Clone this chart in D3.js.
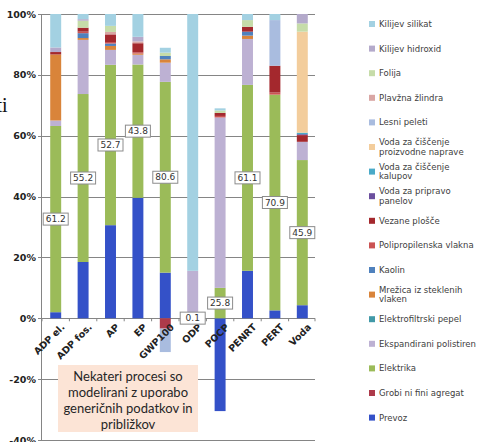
<!DOCTYPE html>
<html>
<head>
<meta charset="utf-8">
<script src="https://cdn.jsdelivr.net/npm/d3@7/dist/d3.min.js"></script>
<style>
  html, body { margin: 0; padding: 0; background: #fff; }
  svg { display: block; }
</style>
</head>
<body>
<svg id="chart" width="485" height="442"></svg>
<script>
// Impact categories (x axis)
const categories = ["ADP el.", "ADP fos.", "AP", "EP", "GWP100", "ODP", "POCP", "PENRT", "PERT", "Voda"];

// Contribution of each input per category, in % (stacked bottom to top)
const prevoz          = [2.0, 18.5, 30.6, 39.6, 15.0, 0, -30.5, 15.6, 2.6, 4.3];
const grobiAgregat    = [0, 0, 0, 0, -3.4, 0, 0, 0, 0, 0];
const elektrika       = [61.2, 55.2, 52.7, 43.8, 62.7, 0.1, 10.0, 61.1, 70.9, 47.7];
const ekspandirani    = [1.8, 17.8, 4.9, 3.2, 6.3, 15.5, 56.0, 15.1, 0, 6.0];
const elektrofiltrski = [0, 0, 0, 0, 0, 0, 0, 0, 0, 0];
const mrezica         = [21.7, 0.6, 1.3, 0.4, 1.1, 0, 0, 1.1, 0, 0];
const kaolin          = [0, 1.6, 0.8, 0, 1.1, 0, 0, 1.3, 0, 0];
const polipropilen    = [0, 0.5, 0.5, 0.4, 0, 0, 0.5, 0, 0.7, 0];
const vezanePlosce    = [0.8, 1.3, 2.5, 3.0, 0, 0, 1.0, 1.6, 8.8, 2.2];
const vodaPripravo    = [0, 0, 0, 0, 0, 0, 0, 0, 0, 0.3];
const vodaKalupov     = [0, 0, 0, 0, 0, 0, 0, 0, 0, 0.5];
const vodaNaprave     = [0, 0, 0, 0, 0, 0, 0, 0, 0, 33.2];
const lesniPeleti     = [0, 0, 0, 0, -7.7, 0, 0, 0, 15.0, 0];
const plavznaZlindra  = [0, 0, 0.8, 0.6, 0, 0, 0, 0, 0, 0];
const folija          = [0, 2.3, 2.0, 0, 1.1, 0, 0.8, 2.2, 0, 2.7];
const kilijevHidroxid = [1.5, 0.5, 0, 1.5, 0, 0, 0, 0, 0, 3.1];
const kilijevSilikat  = [11.0, 1.7, 3.9, 7.5, 1.6, 84.4, 0.7, 2.0, 2.0, 0];

// Share of electricity, written in the boxes on the green segments
const elektrikaShare = [61.2, 55.2, 52.7, 43.8, 80.6, 0.1, 25.8, 61.1, 70.9, 45.9];

// Axis ticks
const yTicks = [-40, -20, 0, 20, 40, 60, 80, 100];

// Series: name, values, colour (stack order, bottom first)
const seriesNames = [
  "Prevoz", "Grobi ni fini agregat", "Elektrika", "Ekspandirani polistiren",
  "Elektrofiltrski pepel", "Mrežica iz steklenih vlaken", "Kaolin",
  "Polipropilenska vlakna", "Vezane plošče", "Voda za pripravo panelov",
  "Voda za čiščenje kalupov", "Voda za čiščenje proizvodne naprave",
  "Lesni peleti", "Plavžna žlindra", "Folija", "Kilijev hidroxid", "Kilijev silikat"
];
const seriesValues = [
  prevoz, grobiAgregat, elektrika, ekspandirani, elektrofiltrski, mrezica, kaolin,
  polipropilen, vezanePlosce, vodaPripravo, vodaKalupov, vodaNaprave,
  lesniPeleti, plavznaZlindra, folija, kilijevHidroxid, kilijevSilikat
];
const seriesColors = [
  "#3451c8", "#ad3a4a", "#9bbb59", "#bdb1d3", "#4199a8", "#d9843a", "#4f81bd",
  "#cb5353", "#a4282d", "#6b4f9e", "#4aaac8", "#f3cd9c",
  "#a9bcdf", "#d9a6a4", "#c6dca9", "#b4aacb", "#a3d1e2"
];

// Legend entries (text lines), top to bottom
const legendLabels = [
  ["Kilijev silikat"], ["Kilijev hidroxid"], ["Folija"], ["Plavžna žlindra"],
  ["Lesni peleti"], ["Voda za čiščenje", "proizvodne naprave"],
  ["Voda za čiščenje", "kalupov"], ["Voda za pripravo", "panelov"],
  ["Vezane plošče"], ["Polipropilenska vlakna"], ["Kaolin"],
  ["Mrežica iz steklenih", "vlaken"], ["Elektrofiltrski pepel"],
  ["Ekspandirani polistiren"], ["Elektrika"], ["Grobi ni fini agregat"], ["Prevoz"]
];

const noteLines = ["Nekateri procesi so", "modelirani z uporabo", "generičnih podatkov in", "približkov"];

// ---- build table for d3.stack ----
const table = categories.map((c, i) => {
  const row = { category: c };
  seriesNames.forEach((s, j) => { row[s] = seriesValues[j][i]; });
  return row;
});

const svg = d3.select("#chart");

const x = d3.scaleBand().domain(categories).range([42, 316]).paddingInner(0.6).paddingOuter(0.3);
const y = d3.scaleLinear().domain([-40, 100]).range([440, 14]);

// grid lines
svg.append("g").selectAll("line").data(yTicks).join("line")
  .attr("x1", 38).attr("x2", 315)
  .attr("y1", d => Math.round(y(d)) + 0.5).attr("y2", d => Math.round(y(d)) + 0.5)
  .attr("stroke", "#858585").attr("stroke-width", 1);

// y axis labels
const yAxis = d3.axisLeft(y).tickValues(yTicks).tickFormat(d => d + "%").tickSize(0).tickPadding(5);
const yg = svg.append("g").attr("transform", "translate(41,0)").call(yAxis);
yg.select(".domain").remove();
yg.selectAll("text")
  .attr("font-family", "DejaVu Sans").attr("font-weight", "bold")
  .attr("font-size", "9.5px").attr("fill", "#222");

// vertical axis line
svg.append("line").attr("x1", 41.5).attr("x2", 41.5).attr("y1", y(100)).attr("y2", y(-40))
  .attr("stroke", "#858585");

// stacked bars
const stack = d3.stack().keys(seriesNames).offset(d3.stackOffsetDiverging);
const layers = stack(table);

svg.append("g").selectAll("g").data(layers).join("g")
  .attr("fill", (d, i) => seriesColors[i])
  .selectAll("rect").data(d => d).join("rect")
  .attr("x", d => x(d.data.category))
  .attr("width", x.bandwidth())
  .attr("y", d => y(Math.max(d[0], d[1])))
  .attr("height", d => Math.abs(y(d[0]) - y(d[1])));

// ticks between categories on the zero line
const bounds = categories.map(c => x(c) - x.step() * x.paddingInner() / 2).concat([315]);
svg.append("g").selectAll("line").data(bounds).join("line")
  .attr("x1", d => d).attr("x2", d => d)
  .attr("y1", y(0)).attr("y2", y(0) + 3)
  .attr("stroke", "#858585");

// category labels
const xAxis = d3.axisBottom(x).tickSize(0).tickPadding(0);
const xg = svg.append("g").attr("transform", `translate(0,${y(0)})`).call(xAxis);
xg.select(".domain").remove();
xg.selectAll("text")
  .attr("font-family", "DejaVu Sans").attr("font-weight", "bold")
  .attr("font-size", "9.5px").attr("fill", "#222")
  .attr("text-anchor", "end").attr("dy", 0).attr("y", 0)
  .attr("transform", "translate(9.5,9.5) rotate(-45)");

// electricity share labels at the middle of the green segment
const elLayer = layers[seriesNames.indexOf("Elektrika")];
const lbl = svg.append("g").selectAll("g").data(elLayer).join("g")
  .attr("transform", (d, i) => `translate(${x(d.data.category) + x.bandwidth() / 2},${y((d[0] + d[1]) / 2)})`);
lbl.append("rect").attr("x", -12.5).attr("y", -6).attr("width", 25).attr("height", 12)
  .attr("fill", "#fff").attr("stroke", "#8c8c8c").attr("stroke-width", 1);
lbl.append("text").text((d, i) => elektrikaShare[i])
  .attr("text-anchor", "middle").attr("dy", "0.36em")
  .attr("font-family", "DejaVu Sans").attr("font-size", "9px").attr("fill", "#333");

// note box
const note = svg.append("g");
note.append("rect").attr("x", 58).attr("y", 365).attr("width", 140).attr("height", 67)
  .attr("fill", "#fce4d6");
note.selectAll("text").data(noteLines).join("text")
  .attr("x", 128).attr("y", (d, i) => 380.5 + i * 16)
  .attr("text-anchor", "middle")
  .attr("font-family", "Lato").attr("font-size", "13px").attr("fill", "#262626")
  .text(d => d);

// stray text fragment on the left edge
svg.append("text").attr("x", 7.5).attr("y", 111.5).attr("text-anchor", "end")
  .attr("font-family", "Liberation Serif").attr("font-size", "20px").attr("fill", "#111")
  .text("ti");

// legend
const legendColors = seriesColors.slice().reverse();
const lg = svg.append("g").selectAll("g").data(legendLabels).join("g")
  .attr("transform", (d, i) => `translate(369,${24 + i * 24.6})`);
lg.append("rect").attr("x", 0).attr("y", -3).attr("width", 6).attr("height", 6)
  .attr("fill", (d, i) => legendColors[i]);
lg.append("text")
  .attr("font-family", "DejaVu Sans").attr("font-size", "8.5px").attr("fill", "#404040")
  .selectAll("tspan").data(d => d.map((t, k) => ({ t, k, n: d.length }))).join("tspan")
  .attr("x", 10)
  .attr("y", d => (d.n === 1 ? 0 : (d.k === 0 ? -4.7 : 4.7)))
  .attr("dy", "0.35em")
  .text(d => d.t);
</script>
</body>
</html>
